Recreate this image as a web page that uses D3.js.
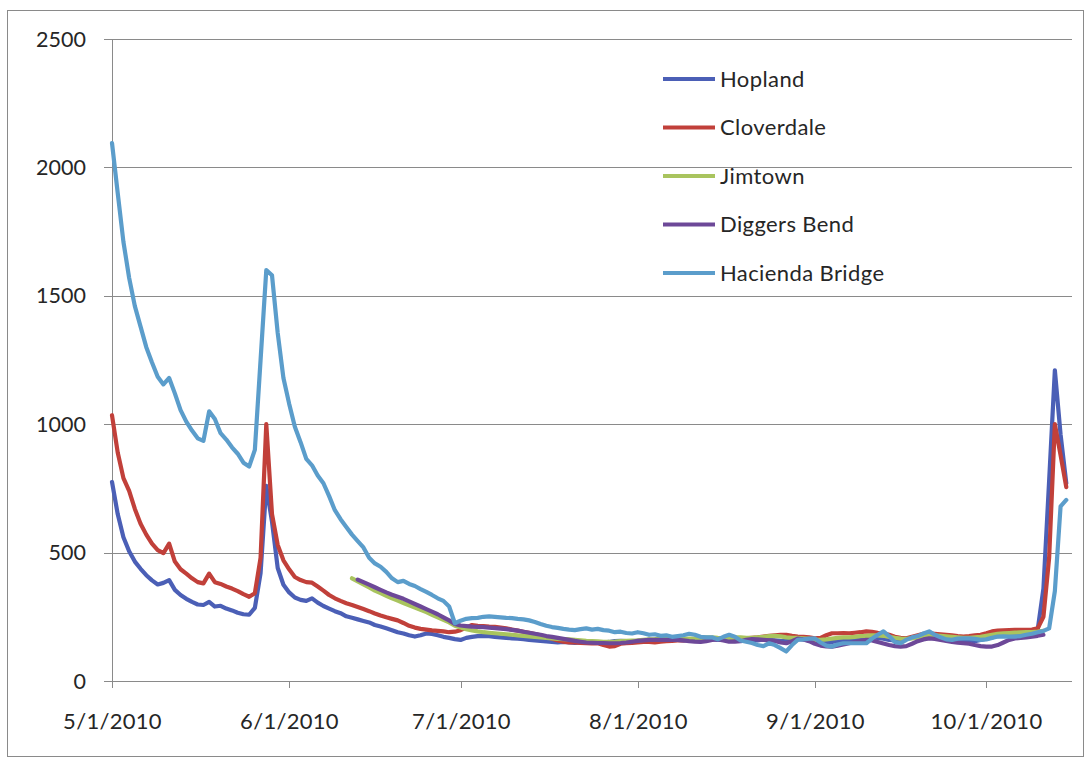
<!DOCTYPE html>
<html lang="en">
  <head>
    <meta charset="UTF-8" />
    <title>river flow</title>
    <style>
      body {
        margin: 0;
        background: #fff;
      }
      svg {
        font-family: Lato, "Open Sans", sans-serif;
      }
      .grid line {
        stroke: #8a8a8a;
        stroke-width: 1;
      }
      .series path {
        fill: none;
        stroke-width: 4.2;
        stroke-linejoin: round;
        stroke-linecap: round;
      }
    </style>
  </head>

  <body>
    <div class="container"></div>

    <script src="https://d3js.org/d3.v7.min.js"></script>
    <script>
      // data (daily, first value = 5/1/2010)
      const startDate = "2010-05-01";
      const axisEnd = "2010-10-16";
      const yTicks = [0, 500, 1000, 1500, 2000, 2500];
      const xTicks = ["2010-05-01", "2010-06-01", "2010-07-01", "2010-08-01", "2010-09-01", "2010-10-01"];
      const xTickLabels = ["5/1/2010", "6/1/2010", "7/1/2010", "8/1/2010", "9/1/2010", "10/1/2010"];

      const seriesNames = ["Hopland", "Cloverdale", "Jimtown", "Diggers Bend", "Hacienda Bridge"];
      const seriesColors = ["#4b5fb6", "#c1403a", "#a9c45e", "#6d4898", "#5b9dcb"];
      // first day of each series
      const seriesStart = ["2010-05-01", "2010-05-01", "2010-06-12", "2010-06-13", "2010-05-01"];

      const hopland = [
        775, 650, 560, 505, 465, 437, 412, 392, 376, 382,
        393, 355, 335, 320, 308, 298, 296, 308, 290, 293,
        282, 275, 266, 260, 258, 285, 420, 760, 620, 440,
        375, 345, 325, 316, 312, 322, 305, 292, 282, 272,
        264, 252, 246, 240, 234, 228, 218, 212, 205, 198,
        190, 185, 178, 173, 178, 185, 183, 178, 172, 168,
        163, 160, 168, 172, 175, 176, 175, 172, 170, 168,
        166, 165, 163, 160, 158, 156, 154, 152, 150, 152,
        150, 148, 150, 152, 150, 148, 150, 152, 155, 156,
        155, 154, 156, 158, 160, 158, 156, 160, 162, 160,
        158, 160, 162, 164, 165, 163, 160, 162, 164, 166,
        165, 163, 160, 158, 162, 160, 158, 156, 155, 160,
        165, 162, 158, 155, 152, 150, 152, 155, 158, 160,
        162, 165, 168, 170, 168, 165, 160, 158, 160, 165,
        168, 170, 172, 170, 168, 165, 162, 160, 158, 160,
        158, 155, 160, 165, 170, 175, 178, 180, 182, 183,
        185, 190, 200, 360, 780, 1210, 960, 770,
      ];

      const cloverdale = [
        1035, 890, 790, 740, 670, 612, 570, 535, 510, 498,
        535, 465, 435, 418, 400, 385, 380, 418, 385, 378,
        368, 360, 350, 338, 328, 342, 480, 1000, 650, 530,
        470, 435, 405, 393, 385, 383, 368, 352, 335, 322,
        312, 303, 296, 288, 280, 272, 263, 255, 248, 242,
        236, 226, 215, 208, 203, 200, 197, 195, 193, 190,
        192, 198, 208, 218, 215, 214, 212, 211, 208, 205,
        200, 196, 192, 188, 183, 178, 172, 165, 158, 153,
        150, 150, 148, 147, 146, 147, 140, 134, 136, 145,
        147, 148, 150, 152, 152, 150, 153, 155, 156, 158,
        158, 160, 160, 162, 164, 165, 166, 166, 166, 168,
        166, 166, 168, 170, 173, 176, 178, 180, 180, 176,
        173, 172, 170, 166, 168, 178, 186, 186, 187, 186,
        188, 190, 193, 191, 188, 186, 180, 172, 168, 166,
        172, 178, 184, 186, 184, 182, 180, 178, 175, 173,
        175, 178, 180, 186, 193, 196, 197, 198, 199, 199,
        199, 200, 205, 250, 480, 1000, 880, 755,
      ];

      const jimtown = [
        400, 388, 376, 364, 352, 342, 332, 322,
        313, 304, 295, 286, 277, 268, 258, 248, 238, 228,
        215, 208, 202, 197, 193, 190, 188, 186, 184, 182,
        180, 178, 176, 174, 172, 170, 168, 166, 164, 163,
        162, 160, 158, 156, 155, 154, 152, 152, 153, 155,
        156, 157, 158, 160, 162, 163, 165, 166, 165, 164,
        164, 165, 166, 168, 170, 170, 168, 167, 168, 170,
        170, 168, 168, 170, 172, 175, 176, 174, 170, 168,
        168, 166, 164, 160, 160, 162, 165, 168, 170, 170,
        172, 175, 176, 178, 178, 176, 172, 168, 165, 164,
        166, 170, 174, 178, 178, 176, 174, 172, 170, 168,
        168, 170, 172, 176, 180, 184, 186, 187, 188, 189,
        190, 190, 192, 195,
      ];

      const diggersBend = [
        395, 385, 375, 365, 355, 345, 336,
        328, 320, 310, 300, 290, 280, 270, 260, 248, 236,
        222, 216, 214, 212, 211, 210, 208, 206, 204, 202,
        199, 196, 192, 188, 184, 180, 175, 172, 168, 164,
        160, 156, 153, 150, 149, 148, 148, 147, 147, 148,
        150, 153, 156, 158, 160, 160, 160, 160, 160, 160,
        158, 155, 153, 152, 155, 160, 162, 158, 153, 153,
        155, 160, 163, 162, 160, 158, 156, 150, 147, 155,
        165, 162, 155, 145, 138, 135, 134, 138, 142, 147,
        152, 156, 160, 158, 152, 146, 140, 136, 134, 136,
        145, 155, 162, 166, 164, 160, 156, 152, 149, 147,
        145, 140, 136, 134, 134, 140, 150, 160, 166, 168,
        170, 173, 176, 180,
      ];

      const haciendaBridge = [
        2095, 1900, 1710, 1570, 1460, 1380, 1300, 1240, 1185, 1155,
        1180, 1120, 1055, 1010, 975, 945, 935, 1050, 1020, 965,
        940, 910, 885, 850, 835, 900, 1250, 1600, 1580, 1355,
        1180, 1080, 990, 930, 865, 840, 800, 770, 720, 665,
        630, 600, 570, 545, 520, 480, 458, 445, 425, 400,
        385, 390, 378, 370, 358, 347, 335, 322, 312, 290,
        225, 235, 242, 245, 246, 250, 252, 250, 248, 246,
        245, 242, 240, 236, 230, 222, 215, 210, 207, 203,
        200, 198, 202, 205, 200, 203, 198, 196, 190, 192,
        187, 185, 190, 186, 180, 182, 176, 178, 172, 175,
        178, 184, 180, 172, 170, 170, 162, 172, 180, 172,
        158, 153, 148, 140, 136, 147, 140, 128, 115, 140,
        160, 162, 165, 166, 150, 138, 134, 142, 147, 147,
        147, 147, 147, 165, 180, 193, 175, 152, 147, 160,
        170, 175, 185, 193, 180, 170, 162, 160, 165, 166,
        166, 164, 160, 162, 168, 173, 174, 173, 173, 175,
        180, 184, 190, 195, 205, 350, 680, 705,
      ];

      const seriesValues = [hopland, cloverdale, jimtown, diggersBend, haciendaBridge];

      // svg
      const width = 1086,
        height = 759;
      const svg = d3
        .select(".container")
        .append("svg")
        .attr("width", width)
        .attr("height", height);

      const parse = d3.utcParse("%Y-%m-%d");

      const x = d3
        .scaleUtc()
        .domain([parse(startDate), parse(axisEnd)])
        .range([112, 1072]);
      const y = d3.scaleLinear().domain([0, 2500]).range([681, 39]);

      // outer chart border
      svg
        .append("rect")
        .attr("x", 7.5)
        .attr("y", 10.5)
        .attr("width", 1076)
        .attr("height", 746)
        .attr("fill", "none")
        .attr("stroke", "#8a8a8a");

      // horizontal gridlines (incl. small tick stubs left of the axis)
      svg
        .append("g")
        .attr("class", "grid")
        .selectAll("line")
        .data(yTicks)
        .join("line")
        .attr("x1", 104)
        .attr("x2", 1072)
        .attr("y1", (d) => Math.round(y(d)) + 0.5)
        .attr("y2", (d) => Math.round(y(d)) + 0.5);

      // y axis line
      svg
        .append("line")
        .attr("x1", 112.5)
        .attr("x2", 112.5)
        .attr("y1", y(2500))
        .attr("y2", y(0))
        .attr("stroke", "#8a8a8a");

      // y labels
      svg
        .append("g")
        .selectAll("text")
        .data(yTicks)
        .join("text")
        .attr("x", 86)
        .attr("y", (d) => y(d))
        .attr("dy", "0.35em")
        .attr("text-anchor", "end")
        .attr("font-size", 21.5)
        .attr("fill", "#262626")
        .text((d) => d);

      // x ticks and labels
      const xt = svg
        .append("g")
        .selectAll("g")
        .data(xTicks)
        .join("g")
        .attr("transform", (d) => `translate(${Math.round(x(parse(d))) + 0.5},0)`);
      xt.append("line")
        .attr("y1", y(0))
        .attr("y2", y(0) + 7)
        .attr("stroke", "#8a8a8a");
      xt.append("text")
        .attr("y", 729)
        .attr("text-anchor", "middle")
        .attr("font-size", 22)
        .attr("letter-spacing", 0.3)
        .attr("fill", "#262626")
        .text((d, i) => xTickLabels[i]);

      // lines
      const line = d3
        .line()
        .x((d) => x(d.date))
        .y((d) => y(d.value));

      const seriesData = seriesNames.map((name, i) => {
        const s = parse(seriesStart[i]);
        return seriesValues[i].map((v, k) => ({ date: d3.utcDay.offset(s, k), value: v }));
      });

      svg
        .append("g")
        .attr("class", "series")
        .selectAll("path")
        .data(seriesData)
        .join("path")
        .attr("stroke", (d, i) => seriesColors[i])
        .attr("d", line);

      // legend
      const legend = svg
        .append("g")
        .selectAll("g")
        .data(seriesNames)
        .join("g")
        .attr("transform", (d, i) => `translate(663,${79 + i * 48.5})`);
      legend
        .append("line")
        .attr("x1", 0)
        .attr("x2", 52)
        .attr("stroke", (d, i) => seriesColors[i])
        .attr("stroke-width", 4);
      legend
        .append("text")
        .attr("x", 57)
        .attr("dy", "0.35em")
        .attr("font-size", 22)
        .attr("letter-spacing", 0.4)
        .attr("fill", "#262626")
        .text((d) => d);
    </script>
  </body>
</html>
